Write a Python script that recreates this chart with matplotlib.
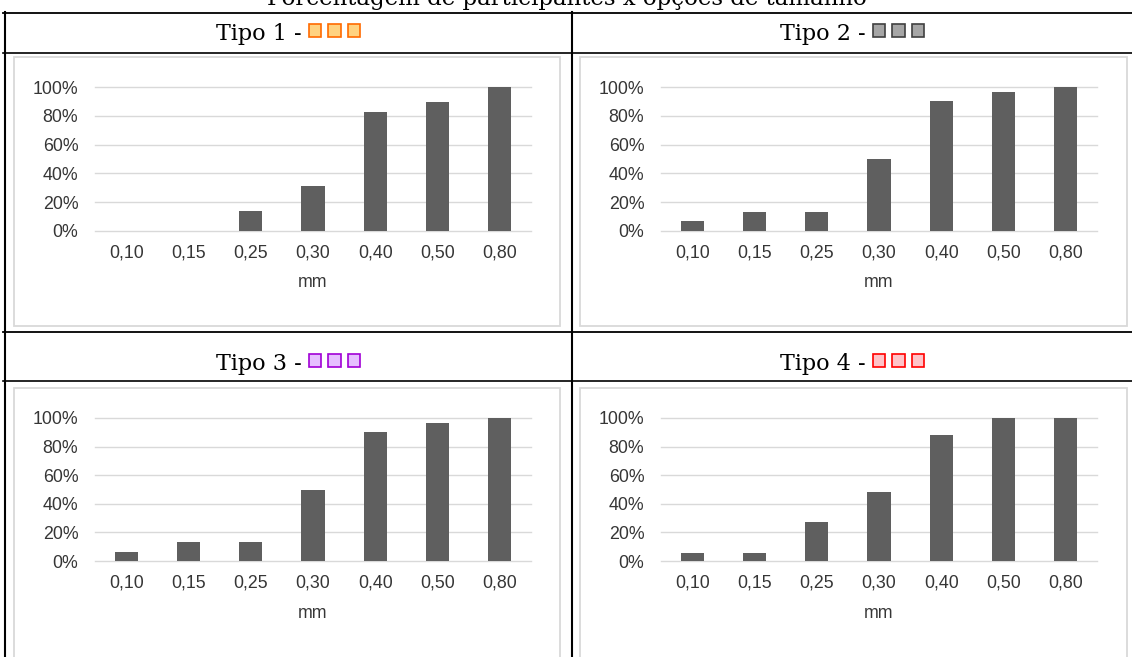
import matplotlib
matplotlib.use("Agg")
import matplotlib.pyplot as plt
from matplotlib.patches import Rectangle
from matplotlib.lines import Line2D

# ---- data ----
sizes = ["0,10", "0,15", "0,25", "0,30", "0,40", "0,50", "0,80"]
tipo1 = [0, 0, 13.8, 31.0, 82.8, 89.7, 100]
tipo2 = [6.7, 13.3, 13.3, 50.0, 90.0, 96.7, 100]
tipo3 = [6.3, 13.2, 13.2, 50.0, 90.0, 96.7, 100]
tipo4 = [5.4, 5.4, 27.0, 48.0, 88.0, 100, 100]
series = [tipo1, tipo2, tipo3, tipo4]
panel_titles = ["Tipo 1 - ", "Tipo 2 - ", "Tipo 3 - ", "Tipo 4 - "]
swatch_face = ["#FFD280", "#A6A6A6", "#E6BFFF", "#FFC3C8"]
swatch_edge = ["#FF6A00", "#404040", "#A100D6", "#FF0000"]
y_ticks = [0, 20, 40, 60, 80, 100]
x_label = "mm"
title = "Porcentagem de participantes x opções de tamanho"

W, H = 1132, 657
fig = plt.figure(figsize=(W / 100, H / 100), dpi=100)
fig.patch.set_facecolor("white")


def fx(x):
    return x / W


def fy(y):
    return 1 - y / H


SERIF = ["DejaVu Serif"]
SANS = ["Liberation Sans", "DejaVu Sans"]
BAR = "#5F5F5F"
GRID = "#D9D9D9"
TXT = "#363636"


# table rules
def hline(y, x0, x1, lw=1.3):
    fig.add_artist(Line2D([fx(x0), fx(x1)], [fy(y), fy(y)], color="black", lw=lw,
                          transform=fig.transFigure, zorder=2))


def vline(x, y0, y1, lw=1.5):
    fig.add_artist(Line2D([fx(x), fx(x)], [fy(y0), fy(y1)], color="black", lw=lw,
                          transform=fig.transFigure, zorder=2))


hline(12.5, 3, W)
hline(53, 3, W, lw=1.2)
hline(332, 3, W)
hline(381, 3, W, lw=1.2)
vline(4.5, 12, H + 2)
vline(572, 12, H + 2)

# caption above the table, partly running off the top edge
fig.text(fx(567), fy(5), title, ha="center", va="baseline",
         family=SERIF, fontsize=16.5, color="black")

cols = [dict(cell=(4, 572), frame=(14, 560), ax=(95, 531)),
        dict(cell=(572, 1132), frame=(580, 1127), ax=(661, 1097))]
rows = [dict(base=40, sq_top=24.3, frame=(57, 326), ax=(87, 231), label_y=283),
        dict(base=370, sq_top=354.3, frame=(388, 668), ax=(418, 561), label_y=613)]

renderer = fig.canvas.get_renderer()
sq = 12.3
pitch = 19.7
k = 0
for r in rows:
    for c in cols:
        vals = series[k]
        # header: text followed by three coloured squares, centred in the cell
        cx = (c["cell"][0] + c["cell"][1]) / 2
        t = fig.text(0, fy(r["base"]), panel_titles[k], ha="left", va="baseline",
                     family=SERIF, fontsize=16, color="black")
        bb = t.get_window_extent(renderer)
        tw = bb.width
        total = tw + 2 * pitch + sq
        x0 = cx - total / 2
        t.set_x(fx(x0))
        for i in range(3):
            sx = x0 + tw + i * pitch
            fig.add_artist(Rectangle((fx(sx), fy(r["sq_top"] + sq)), fx(sq), sq / H,
                                     facecolor=swatch_face[k], edgecolor=swatch_edge[k],
                                     lw=1.2, transform=fig.transFigure, zorder=2))
        # light chart frame, behind the axes
        f0, f1 = c["frame"]
        g0, g1 = r["frame"]
        fig.add_artist(Rectangle((fx(f0), fy(g1)), fx(f1 - f0), (g1 - g0) / H,
                                 facecolor="white", edgecolor=GRID, lw=1.3,
                                 transform=fig.transFigure, zorder=-5))
        # bar chart
        a0, a1 = c["ax"]
        b0, b1 = r["ax"]
        ax = fig.add_axes([fx(a0), fy(b1), fx(a1 - a0), (b1 - b0) / H])
        ax.set_facecolor("none")
        xs = range(len(sizes))
        ax.bar(xs, vals, width=0.37, color=BAR, zorder=3)
        ax.set_xlim(-0.5, len(sizes) - 0.5)
        ax.set_ylim(0, 100)
        ax.set_yticks(y_ticks)
        ax.set_yticklabels([f"{v}%" for v in y_ticks])
        ax.set_xticks(list(xs))
        ax.set_xticklabels(sizes)
        for s in ax.spines.values():
            s.set_visible(False)
        ax.tick_params(length=0, labelsize=12.8, labelcolor=TXT)
        ax.tick_params(axis="y", pad=12)
        ax.tick_params(axis="x", pad=10)
        for lab in ax.get_xticklabels() + ax.get_yticklabels():
            lab.set_family(SANS)
        ax.yaxis.grid(True, color=GRID, lw=1.0)
        for gl in ax.get_ygridlines():
            gl.set_clip_on(False)
        ax.set_axisbelow(True)
        ax.set_xlabel(x_label, family=SANS, fontsize=12.8, color=TXT)
        ax.xaxis.set_label_coords(0.5, -(r["label_y"] - b1) / (b1 - b0),
                                  transform=ax.transAxes)
        ax.xaxis.label.set_va("center")
        k += 1

fig.savefig("out.png", dpi=100, facecolor="white")
